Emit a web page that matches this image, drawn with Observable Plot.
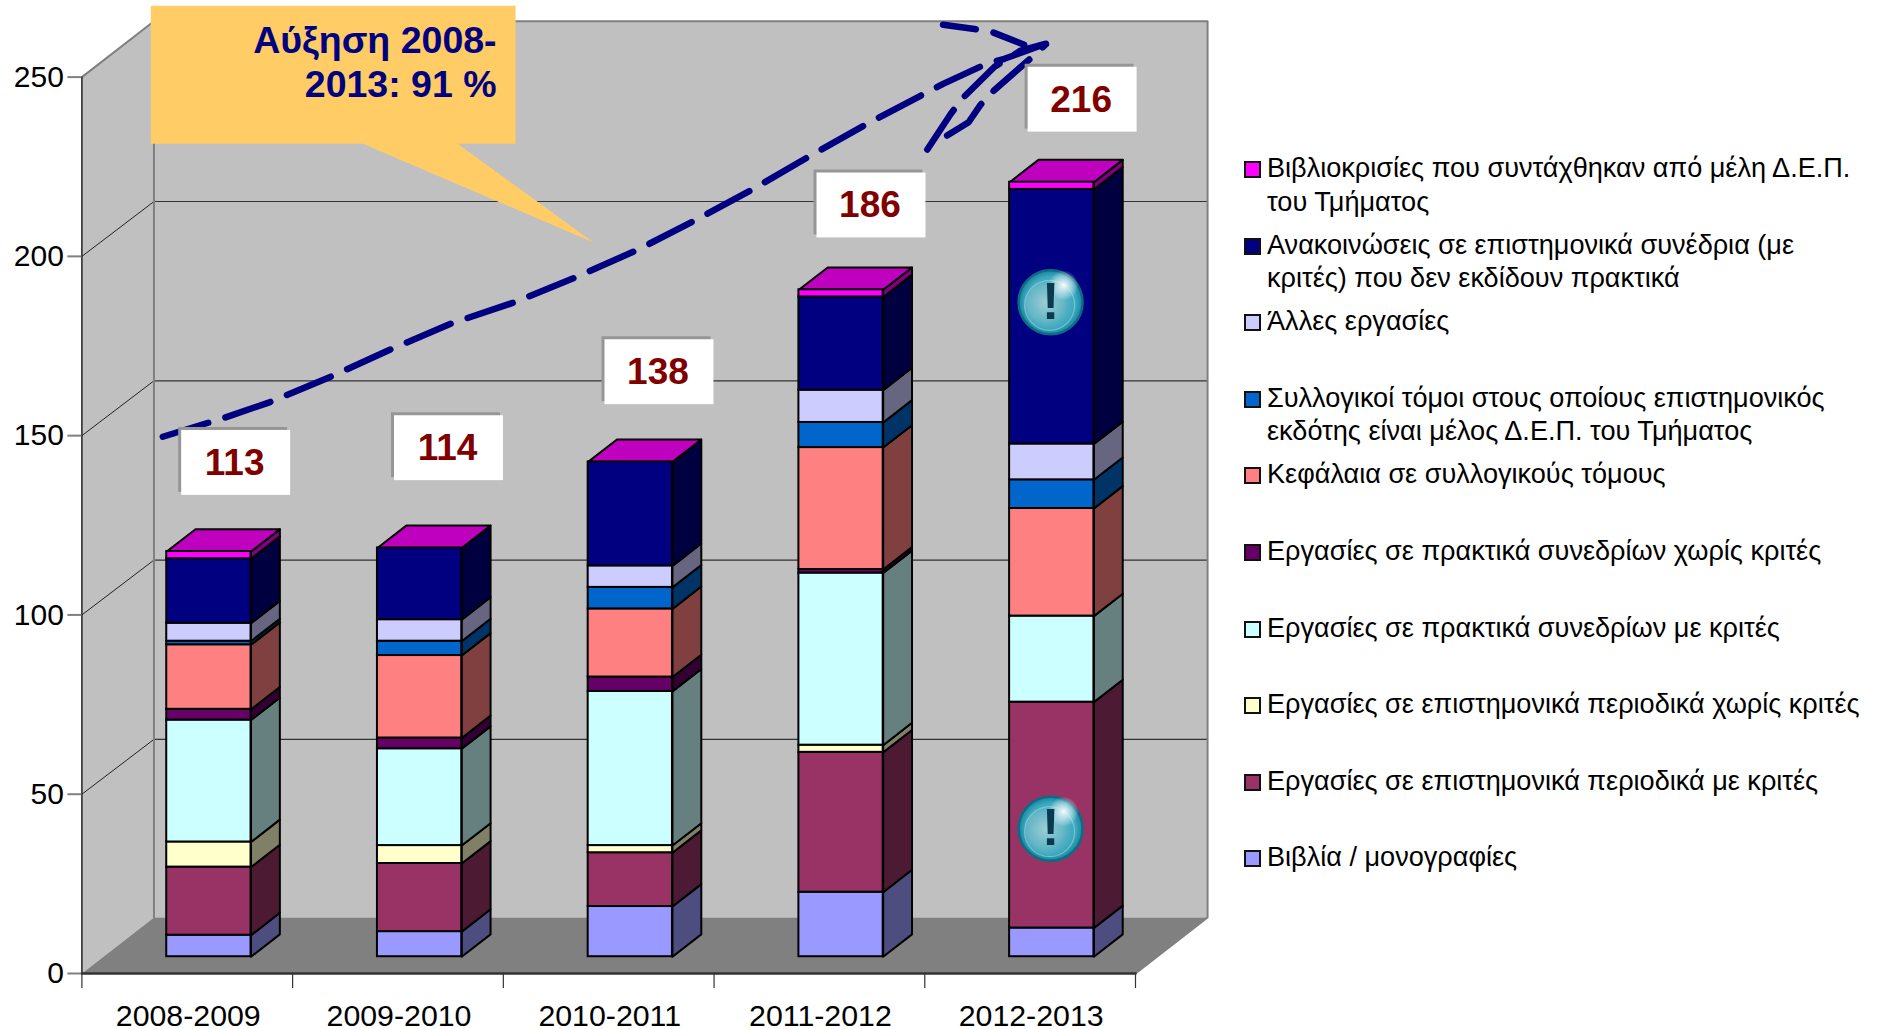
<!DOCTYPE html>
<html><head><meta charset="utf-8">
<style>
html,body{margin:0;padding:0;background:#fff;overflow:hidden;width:1877px;height:1029px}
#wrap{position:relative;width:1877px;height:1029px}
#legend{position:absolute;left:0;top:0;font-family:"Liberation Sans",Arial,sans-serif;font-size:27.1px;color:#000;line-height:33.5px}
.item{position:absolute;left:1267px;white-space:nowrap}
.sw{position:absolute;left:1244px;width:13px;height:13px;border:2px solid #111}
</style>
<script src="https://cdn.jsdelivr.net/npm/d3@7"></script>
<script src="https://cdn.jsdelivr.net/npm/@observablehq/plot@0.6"></script>
</head><body><div id="wrap"><div id="legend"></div></div>
<script>
const categories = ["2008-2009","2009-2010","2010-2011","2011-2012","2012-2013"];
const seriesNames = [
  "Βιβλία / μονογραφίες",
  "Εργασίες σε επιστημονικά περιοδικά με κριτές",
  "Εργασίες σε επιστημονικά περιοδικά χωρίς κριτές",
  "Εργασίες σε πρακτικά συνεδρίων με κριτές",
  "Εργασίες σε πρακτικά συνεδρίων χωρίς κριτές",
  "Κεφάλαια σε συλλογικούς τόμους",
  "Συλλογικοί τόμοι στους οποίους επιστημονικός\nεκδότης είναι μέλος Δ.Ε.Π. του Τμήματος",
  "Άλλες εργασίες",
  "Ανακοινώσεις σε επιστημονικά συνέδρια (με\nκριτές) που δεν εκδίδουν πρακτικά",
  "Βιβλιοκρισίες που συντάχθηκαν από μέλη Δ.Ε.Π.\nτου Τμήματος"
];
const books        = [6, 7, 14, 18, 8];
const refJournals  = [19, 19, 15, 39, 63];
const plainJournals= [7, 5, 2, 2, 0];
const refConf      = [34, 27, 43, 48, 24];
const plainConf    = [3, 3, 4, 1, 0];
const chapters     = [18, 23, 19, 34, 30];
const volumes      = [1, 4, 6, 7, 8];
const otherWorks   = [5, 6, 6, 9, 10];
const talks        = [18, 20, 29, 26, 71];
const reviews      = [2, 0, 0, 2, 2];
const seriesValues = [books, refJournals, plainJournals, refConf, plainConf, chapters, volumes, otherWorks, talks, reviews];
const totals = [113, 114, 138, 186, 216];
const frontColors = ["#9999FF","#993366","#FFFFCC","#CCFFFF","#660066","#FF8080","#0066CC","#CCCCFF","#000080","#FF00FF"];
const sideColors  = ["#4D4D80","#4D1A33","#808066","#668080","#330033","#804040","#003366","#666680","#000040","#800080"];
const topColor = "#BF00BF";
const yTicks = [0,50,100,150,200,250];

// Oblique projection of the 3-D chart, in scale units (category position, value)
const wallU = 0.342, wallV = 15.6;
const gridRise = 15.3;
const barWidth = 0.4, barDepthU = 0.4*wallU, barDepthV = 0.4*wallV;
const barLeft = i => i + 0.3 + 0.3*wallU;
const barBase = 0.3*wallV;

// Annotation shapes, in scale units
const calloutU = [0.327,2.058,2.058,1.783,2.428,1.334,0.327,0.327];
const calloutV = [269.9,269.9,231.4,231.4,203.9,231.4,231.4,269.9];
const trendU = [0.384,0.682,0.890,1.183,1.474,1.754,2.053,2.345,2.636,2.914,3.186,3.458,3.730,4.087,4.293,4.378,4.575];
const trendV = [149.7,155.1,159.3,166.5,174.3,181.3,187.2,194.2,201.8,210.2,218.8,228.1,237.1,248.1,253.7,255.1,259.3];
const arrowAU = [4.012,4.123,4.179,4.331,4.455,4.575];
const arrowAV = [229.8,239.7,244.1,252.9,257.4,259.3];
const arrowBU = [4.106,4.208,4.265,4.327,4.500,4.574];
const arrowBV = [233.7,237.4,242.3,246.2,255.1,259.1];
const arrowCU = [4.087,4.236,4.322,4.481];
const arrowCV = [264.6,263.4,262.5,258.8];
const labelU = [0.732,1.742,2.741,3.747,4.749];
const labelV = [142.4,146.5,167.7,214.2,243.7];
const labelW = 0.517, labelH = 18.1;
const iconU = [4.597,4.597];
const iconV = [187.2,40.4];

// Build rows
const fronts = [], polys = [];
const poly = (id, fill, pts) => { pts.concat([pts[0]]).forEach(([u,v]) => polys.push({id, fill, u, v})); };
categories.forEach((c,i) => {
  let lo = barBase;
  const xl = barLeft(i), xr = xl + barWidth;
  seriesValues.forEach((vals,s) => {
    const h = vals[i];
    if (h > 0) {
      const hi = lo + h;
      fronts.push({x1:xl,x2:xr,y1:lo,y2:hi,series:seriesNames[s]});
      poly(`side-${i}-${s}`, sideColors[s], [[xr,lo],[xr+barDepthU,lo+barDepthV],[xr+barDepthU,hi+barDepthV],[xr,hi]]);
      lo = hi;
    }
  });
  poly(`top-${i}`, topColor, [[xl,lo],[xr,lo],[xr+barDepthU,lo+barDepthV],[xl+barDepthU,lo+barDepthV]]);
});
const zip = (U,V) => U.map((u,k) => ({u, v:V[k]}));
const n = categories.length;
const floorRows = [[0,0],[n,0],[n+wallU,wallV],[wallU,wallV]].map(([u,v])=>({u,v}));
const leftWall = [[0,0],[wallU,wallV],[wallU,250+wallV],[0,250]].map(([u,v])=>({u,v}));
const backWall = [[wallU,wallV],[n+wallU,wallV],[n+wallU,250+wallV],[wallU,250+wallV]].map(([u,v])=>({u,v}));
const gridBack = yTicks.slice(1,5).flatMap(t => [{t,u:wallU,v:t+gridRise},{t,u:n+wallU,v:t+gridRise}]);
const gridLeft = yTicks.slice(1,5).flatMap(t => [{t,u:0,v:t},{t,u:wallU,v:t+gridRise}]);
const outline = [[0,250],[wallU,250+wallV],[n+wallU,250+wallV],[n+wallU,wallV],[n,0]].map(([u,v])=>({u,v}));
const labels = totals.map((t,k)=>({t,u:labelU[k],v:labelV[k]}));
const icons = iconU.map((u,k)=>({u,v:iconV[k]}));
const midTicks = categories.map((c,i)=>i+0.5);
const F = "#000080";

const plot = Plot.plot({
  width: 1240, height: 1029,
  marginLeft: 81.4, marginRight: 105, marginTop: 76.6, marginBottom: 56,
  style: {fontFamily:'"Liberation Sans",Arial,sans-serif', background:"transparent", overflow:"visible"},
  x: {domain:[0,n], axis:null},
  y: {domain:[0,250], axis:null},
  color: {domain:seriesNames, range:frontColors},
  marks: [
    Plot.line(backWall.concat(backWall[0]), {x:"u",y:"v",fill:"#C0C0C0",stroke:"none"}),
    Plot.line(leftWall.concat(leftWall[0]), {x:"u",y:"v",fill:"#C0C0C0",stroke:"none"}),
    Plot.line(floorRows.concat(floorRows[0]), {x:"u",y:"v",fill:"#808080",stroke:"none"}),
    Plot.line(gridBack, {x:"u",y:"v",z:"t",stroke:"#333333",strokeWidth:1.2}),
    Plot.line(gridLeft, {x:"u",y:"v",z:"t",stroke:"#222222",strokeWidth:1}),
    Plot.line([{u:wallU,v:wallV},{u:wallU,v:250+wallV}], {x:"u",y:"v",stroke:"#808080",strokeWidth:2}),
    Plot.line(outline, {x:"u",y:"v",stroke:"#808080",strokeWidth:2}),
    Plot.line([{u:0,v:0},{u:n,v:0}], {x:"u",y:"v",stroke:"#333333",strokeWidth:2.5}),
    Plot.line([{u:0,v:0},{u:0,v:250}], {x:"u",y:"v",stroke:"#222222",strokeWidth:1.5}),
    Plot.axisY({ticks:yTicks, tickSize:14, tickPadding:4, fontSize:30, stroke:"#808080", strokeWidth:2, tickFormat:d=>d}),
    Plot.axisX({ticks:d3.range(n+1), tickSize:15, tickFormat:()=>"", stroke:"#333333", strokeWidth:1.2}),
    Plot.axisX({ticks:midTicks, tickSize:0, tickPadding:31, fontSize:30.3, dx:1, tickFormat:d=>categories[d-0.5]}),
    Plot.line(polys, {x:"u",y:"v",z:"id",fill:{value:d=>d.fill,scale:null},stroke:"#000",strokeWidth:2,strokeLinejoin:"round"}),
    Plot.rect(fronts, {x1:"x1",x2:"x2",y1:"y1",y2:"y2",fill:"series",stroke:"#000",strokeWidth:2}),
    Plot.line(zip(calloutU,calloutV), {x:"u",y:"v",fill:"#FFCC66",stroke:"none"}),
    Plot.text(["Αύξηση 2008-\n2013: 91 %"], {x:1.968,y:254.6,textAnchor:"end",fontSize:37.5,fontWeight:"bold",fill:"#000080",lineHeight:1.2}),
    Plot.line(zip(trendU,trendV), {x:"u",y:"v",stroke:F,strokeWidth:6.5,strokeDasharray:"47.5,18"}),
    Plot.line(zip(arrowAU,arrowAV), {x:"u",y:"v",stroke:F,strokeWidth:6.5,strokeDasharray:"47.5,18"}),
    Plot.line(zip(arrowBU,arrowBV), {x:"u",y:"v",stroke:F,strokeWidth:6.5,strokeDasharray:"47.5,18"}),
    Plot.line(zip(arrowCU,arrowCV), {x:"u",y:"v",stroke:F,strokeWidth:6.5,strokeDasharray:"33,18"}),
    Plot.rect(labels, {x1:d=>d.u-labelW/2,x2:d=>d.u+labelW/2,y1:d=>d.v-labelH/2,y2:d=>d.v+labelH/2,fill:"#969696",dx:-3,dy:-3}),
    Plot.rect(labels, {x1:d=>d.u-labelW/2,x2:d=>d.u+labelW/2,y1:d=>d.v-labelH/2,y2:d=>d.v+labelH/2,fill:"#fff"}),
    Plot.text(labels, {x:"u",y:"v",dx:-1.5,text:d=>String(d.t),fontSize:37,fontWeight:"bold",fill:"#800000"}),
    Plot.dot(icons, {x:"u",y:"v",r:32,fill:"url(#bubble)",stroke:"#0D6C85",strokeWidth:2.5}),
    Plot.dot(icons, {x:"u",y:"v",r:25,dx:-1,dy:3,fill:"url(#inner)",stroke:"#9FD8E2",strokeOpacity:0.55,strokeWidth:1.2}),
    Plot.dot(icons, {x:"u",y:"v",r:15,dx:13,dy:-17,fill:"url(#shine)",stroke:"none"}),
    Plot.text(icons, {x:"u",y:"v",text:()=>"!",fontSize:52,fontWeight:"bold",fill:"#0A3A50"})
  ]
});
plot.style.position = "absolute"; plot.style.left = "0"; plot.style.top = "0";
const defs = d3.create("svg:defs");
const grad = (id, stops, cx, cy, r) => {
  const g = defs.append("radialGradient").attr("id",id).attr("cx",cx).attr("cy",cy).attr("r",r);
  stops.forEach(([o,c,a]) => g.append("stop").attr("offset",o).attr("stop-color",c).attr("stop-opacity",a));
};
grad("bubble", [["0%","#58B4C6",1],["75%","#3FA9BF",1],["100%","#0F7F99",1]], "0.5", "0.5", "0.52");
grad("inner", [["0%","#A2CFD7",0.95],["60%","#6DB9C8",0.8],["100%","#2FA4BC",0.5]], "0.42", "0.45", "0.6");
grad("shine", [["0%","#FFFFFF",0.95],["50%","#E4F4F7",0.6],["100%","#FFFFFF",0]], "0.5", "0.5", "0.5");
plot.insertBefore(defs.node(), plot.firstChild);
document.getElementById("wrap").prepend(plot);

// Legend, top to bottom
const legend = document.getElementById("legend");
const rowTop = [151,227.6,304.2,380.8,457.4,534,610.6,687.2,763.8,840.4];
seriesNames.slice().reverse().forEach((name,k) => {
  const s = document.createElement("div");
  s.className = "sw"; s.style.top = (rowTop[k]+10)+"px";
  s.style.background = frontColors[frontColors.length-1-k];
  legend.appendChild(s);
  const t = document.createElement("div");
  t.className = "item"; t.style.top = rowTop[k]+"px";
  t.innerHTML = name.replace("\n","<br>");
  legend.appendChild(t);
});
</script></body></html>
